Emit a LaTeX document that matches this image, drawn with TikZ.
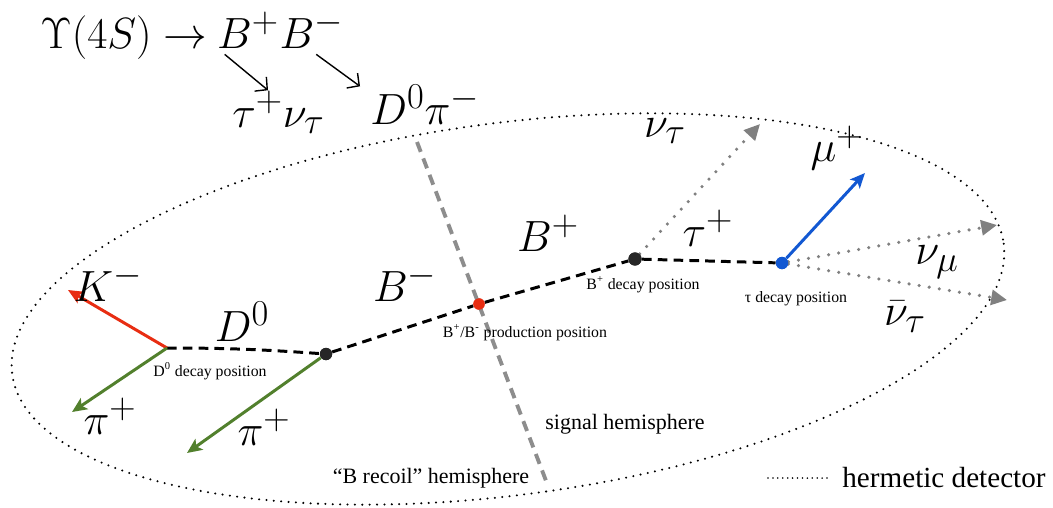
\documentclass[tikz,border=0pt]{standalone}
\usepackage{fontspec}
\setmainfont{Liberation Serif}
\usetikzlibrary{arrows.meta}

\definecolor{kaonred}{RGB}{232,45,18}
\definecolor{piongreen}{RGB}{82,128,45}
\definecolor{muonblue}{RGB}{18,88,210}
\definecolor{nugray}{RGB}{128,128,128}

\begin{document}
\begin{tikzpicture}[x=0.02cm, y=-0.02cm,
  vtx/.style={circle, fill=black!85, inner sep=0pt, minimum size=7pt},
  track/.style={dash pattern=on 5.5pt off 3.5pt, line width=1.7pt},
  hemi/.style={dash pattern=on 6pt off 4pt, line width=2.2pt, nugray!90},
  detector/.style={dash pattern=on 0pt off 4.2pt, line cap=round, line width=1.3pt},
  legline/.style={dash pattern=on 0pt off 2.8pt, line cap=round, line width=1pt},
  nu/.style={dash pattern=on 0pt off 5.8pt, line cap=round, line width=2pt, nugray, -{Triangle[length=9pt, width=8.5pt]}},
  part/.style={line width=1.7pt, -{Stealth[length=8.5pt, width=7.5pt, inset=2pt]}},
  decay/.style={line width=0.8pt, -{Straight Barb[length=5pt, width=10.5pt]}},
  lbl/.style={font=\Huge, inner sep=0pt},
  postxt/.style={font=\fontsize{9}{10}\selectfont, inner sep=0pt},
  hemitxt/.style={font=\fontsize{12.5}{14}\selectfont, inner sep=0pt},
  legtxt/.style={font=\rmfamily\fontsize{16.6}{19}\selectfont, inner sep=0pt},
]
\useasboundingbox (0,0) rectangle (1053,507);

% decay chain
\node[lbl, anchor=base west] (ups) at (40,48) {$\Upsilon(4S)\rightarrow$};
\node[lbl, anchor=base west, xshift=5pt] (bplus) at (ups.base east) {$B^+$};
\node[lbl, anchor=base west] (bminus) at (bplus.base east) {$B^-$};
\node[lbl, anchor=base west] (taunu) at (232,127) {$\tau^+\nu_\tau$};
\node[lbl, anchor=base west] (dpi) at (370,124) {$D^0\pi^-$};
\draw[decay] ([shift={(8,6)}]bplus.south west) -- ([shift={(36,0)}]taunu.north west);
\draw[decay] ([shift={(37,6)}]bminus.south west) -- ([shift={(-10,2)}]dpi.north west);

% detector
\coordinate (det) at (508,309);
\draw[detector, rotate around={7.5:(det)}] (det) ellipse [x radius=500, y radius=186];

% vertices and end points
\coordinate (d0dec) at (167,348);
\node[vtx] (bvtx) at (326,354) {};
\node[vtx, fill=kaonred, minimum size=6.5pt] (prod) at (479,304) {};
\node[vtx, minimum size=7.5pt] (bpdec) at (635,259) {};
\node[vtx, fill=muonblue] (taudec) at (782,263) {};
\coordinate (hemtop) at (417,142);
\coordinate (hembot) at (548,486);
\coordinate (kend) at (68,290);
\coordinate (pione) at (72,412);
\coordinate (pitwo) at (187,453);
\coordinate (nutau) at (760,124);
\coordinate (muend) at (865,173);
\coordinate (numu) at (997,225);
\coordinate (nubar) at (1007,300);

% hemispheres
\draw[hemi] (hemtop) -- (hembot);

% tracks
\draw[track] (d0dec) to[out=0, in=176] (bvtx);
\draw[track] (bvtx) -- (prod) -- (bpdec);
\draw[track] (bpdec) -- (taudec);
\draw[part, kaonred] (d0dec) -- (kend);
\draw[part, piongreen] (d0dec) -- (pione);
\draw[part, piongreen] (bvtx) -- (pitwo);
\draw[part, muonblue] (taudec) -- (muend);
\draw[nu] (bpdec) -- (nutau);
\draw[nu] (taudec) -- (numu);
\draw[nu] (taudec) -- (nubar);
\node[vtx] at (bvtx) {};
\node[vtx, fill=kaonred, minimum size=6.5pt] at (prod) {};
\node[vtx, minimum size=7.5pt] at (bpdec) {};
\node[vtx, fill=muonblue] at (taudec) {};

% particle labels
\node[lbl] (klbl) at (108,283) {$K^-$};
\node[lbl] (d0lbl) at (242,322) {$D^0$};
\node[lbl] (pionelbl) at (110,416) {$\pi^+$};
\node[lbl] (pitwolbl) at (264,427) {$\pi^+$};
\node[lbl] (bmlbl) at (405,283) {$B^-$};
\node[lbl] (bplbl) at (548,233) {$B^+$};
\node[lbl] (nutaulbl) at (665,131) {$\nu_\tau$};
\node[lbl] (taulbl) at (708,228) {$\tau^+$};
\node[lbl] (mulbl) at (837,148) {$\mu^+$};
\node[lbl] (numulbl) at (937,262) {$\nu_\mu$};
\node[lbl] (nubarlbl) at (905,317) {$\bar\nu_\tau$};

% position labels
\node[postxt] (d0txt) at (210,371) {D\textsuperscript{0} decay position};
\node[postxt] (prodtxt) at (525,333) {B\textsuperscript{+}/B\textsuperscript{-} production position};
\node[postxt] (bptxt) at (643,285) {B\textsuperscript{+} decay position};
\node[postxt] (tautxt) at (796,299) {τ decay position};
\node[hemitxt] (sigtxt) at (625,424) {signal hemisphere};
\node[hemitxt] (recoiltxt) at (431,478) {“B recoil” hemisphere};

% legend
\coordinate (lega) at (768,478);
\node[legtxt, anchor=west] (legend) at (842,478) {hermetic detector};
\draw[legline] (lega) -- ([xshift=-7]legend.west);
\end{tikzpicture}
\end{document}
